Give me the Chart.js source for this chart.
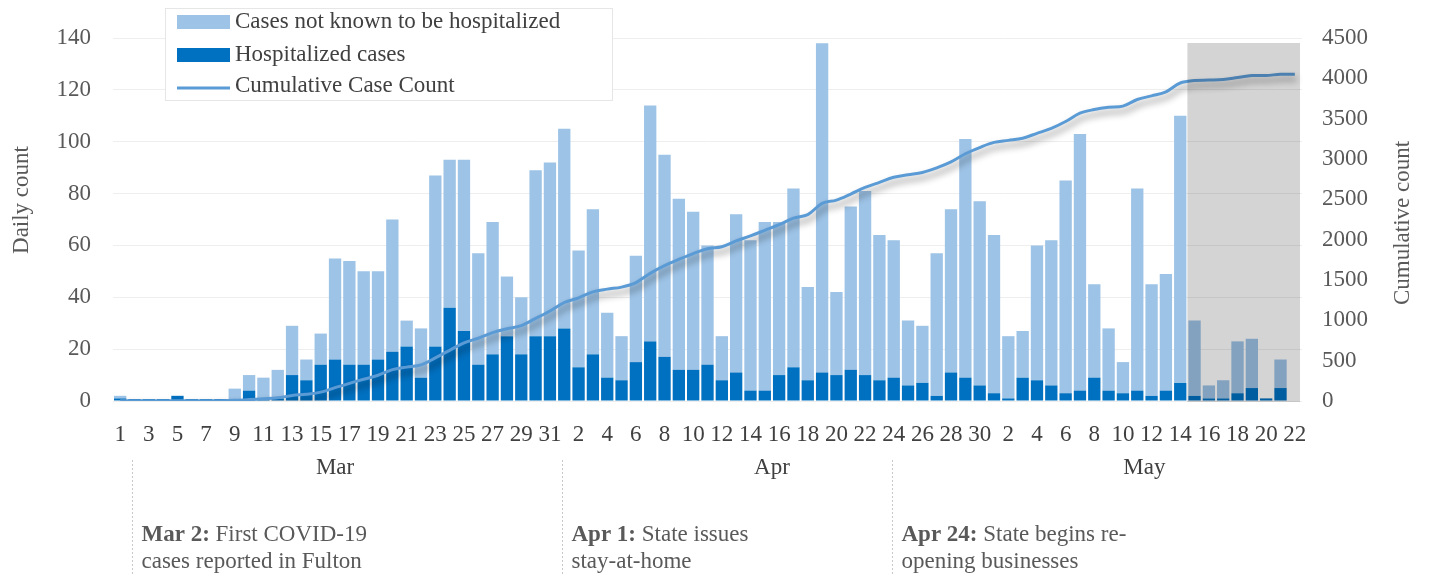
<!DOCTYPE html>
<html>
<head>
<meta charset="utf-8">
<script src="https://cdn.jsdelivr.net/npm/chart.js@4"></script>
<style>
  body { margin: 0; background: #fff; }
  canvas { display: block; }
</style>
</head>
<body>
<canvas id="casesChart" width="1430" height="576"></canvas>
<script>
// days per month shown on the axis (Mar 1 -> May 22)
const months = ["Mar", "Apr", "May"];
const monthDays = [31, 30, 22];

// daily counts (no bar yet on May 22)
const hospitalized = [
  1, 0, 0, 0, 2, 0, 0, 0, 0, 4, 1, 1, 10, 8, 14, 16, 14, 14, 16, 19, 21, 9, 21, 36, 27, 14, 18, 25, 18, 25, 25,
  28, 13, 18, 9, 8, 15, 23, 17, 12, 12, 14, 8, 11, 4, 4, 10, 13, 8, 11, 10, 12, 10, 8, 9, 6, 7, 2, 11, 9, 6,
  3, 1, 9, 8, 6, 3, 4, 9, 4, 3, 4, 2, 4, 7, 2, 1, 1, 3, 5, 1, 5, null
];
const notHospitalized = [
  1, 0, 0, 0, 0, 0, 0, 0, 4, 6, 8, 11, 19, 8, 12, 39, 40, 36, 34, 51, 10, 19, 66, 57, 66, 43, 51, 23, 22, 64, 67,
  77, 45, 56, 25, 17, 41, 91, 78, 66, 61, 46, 17, 61, 58, 65, 59, 69, 36, 127, 32, 63, 71, 56, 53, 25, 22, 55, 63, 92, 71,
  61, 24, 18, 52, 56, 82, 99, 36, 24, 12, 78, 43, 45, 103, 29, 5, 7, 20, 19, 0, 11, null
];
const cumulative = [
  2, 2, 2, 2, 4, 4, 4, 4, 8, 18, 27, 39, 68, 84, 110, 165, 219, 269, 319, 389, 420, 448, 535, 628, 721, 778, 847, 895, 935, 1024, 1116,
  1221, 1279, 1353, 1387, 1412, 1468, 1582, 1677, 1755, 1828, 1888, 1913, 1985, 2047, 2116, 2185, 2267, 2311, 2449, 2491, 2566, 2647, 2711, 2773, 2804, 2833, 2890, 2964, 3065, 3142,
  3206, 3231, 3258, 3318, 3380, 3465, 3568, 3613, 3641, 3656, 3738, 3783, 3832, 3942, 3973, 3979, 3987, 4010, 4034, 4035, 4051, 4051
];

const dailyTicks = [0, 20, 40, 60, 80, 100, 120, 140];
const cumulativeTicks = [0, 500, 1000, 1500, 2000, 2500, 3000, 3500, 4000, 4500];

// events written under the axis: [month, day, bold part, rest of line 1, line 2]
const events = [
  ["Mar", 2, "Mar 2:", " First COVID-19", "cases reported in Fulton"],
  ["Apr", 1, "Apr 1:", " State issues", "stay-at-home"],
  ["Apr", 24, "Apr 24:", " State begins re-", "opening businesses"]
];
// last week greyed out (data still coming in)
const shadeFrom = ["May", 15];

const labels = [];
monthDays.forEach(n => { for (let d = 1; d <= n; d++) labels.push(String(d)); });

const dayIndex = (m, d) => {
  let idx = 0;
  for (let i = 0; i < months.indexOf(m); i++) idx += monthDays[i];
  return idx + d - 1;
};

const FONT = '"Liberation Serif", "DejaVu Serif", serif';
const GREY_TXT = "#595959";
const DARK_TXT = "#404040";

const extras = {
  id: "extras",
  beforeDatasetDraw(chart, args) {
    if (args.meta.type === "line") {
      const c = chart.ctx;
      c.save();
      c.shadowColor = "rgba(0,0,0,0.45)";
      c.shadowBlur = 7;
      c.shadowOffsetX = 2;
      c.shadowOffsetY = 5;
    }
  },
  afterDatasetDraw(chart, args) {
    if (args.meta.type === "line") chart.ctx.restore();
  },
  afterDatasetsDraw(chart) {
    const c = chart.ctx, x = chart.scales.x, area = chart.chartArea;
    const half = (x.getPixelForValue(1) - x.getPixelForValue(0)) / 2;
    const left = x.getPixelForValue(dayIndex(...shadeFrom)) - half;
    c.save();
    c.fillStyle = "rgba(0,0,0,0.17)";
    c.fillRect(left, area.top + 5, area.right - 2 - left, area.bottom - area.top - 4);
    c.restore();
  },
  afterDraw(chart) {
    const c = chart.ctx, x = chart.scales.x;
    c.save();

    // axis titles
    c.font = "23px " + FONT;
    c.fillStyle = GREY_TXT;
    c.textAlign = "center";
    c.textBaseline = "middle";
    c.save(); c.translate(22, 200); c.rotate(-Math.PI / 2); c.fillText("Daily count", 0, 0); c.restore();
    c.save(); c.translate(1403, 223); c.rotate(-Math.PI / 2); c.fillText("Cumulative count", 0, 0); c.restore();

    // month labels
    c.fillStyle = DARK_TXT;
    let start = 0;
    months.forEach((m, i) => {
      const end = start + monthDays[i] - 1;
      const mid = (x.getPixelForValue(start) + x.getPixelForValue(end)) / 2;
      c.fillText(m, mid, 468);
      start = end + 1;
    });

    // event markers
    c.textAlign = "left";
    events.forEach(ev => {
      const px = Math.round(x.getPixelForValue(dayIndex(ev[0], ev[1]))) - 1.5;
      c.strokeStyle = "#C8C8C8";
      c.lineWidth = 1;
      c.setLineDash([2, 2]);
      c.beginPath(); c.moveTo(px, 460); c.lineTo(px, 576); c.stroke();
      c.setLineDash([]);
      const tx = px + 9;
      c.font = "bold 23px " + FONT;
      c.fillStyle = GREY_TXT;
      c.fillText(ev[2], tx, 535);
      const w = c.measureText(ev[2]).width;
      c.font = "23px " + FONT;
      c.fillText(ev[3], tx + w, 535);
      c.fillText(ev[4], tx, 562);
    });

    // legend box
    c.fillStyle = "#fff";
    c.fillRect(165, 8, 447, 92);
    c.strokeStyle = "#E6E6E6";
    c.lineWidth = 1;
    c.strokeRect(165.5, 8.5, 447, 92);
    const items = chart.data.datasets.slice().reverse();
    const rows = [22, 55, 86];
    items.forEach((ds, i) => {
      const y = rows[i];
      if (ds.type === "line") {
        c.strokeStyle = ds.borderColor;
        c.lineWidth = 3;
        c.beginPath(); c.moveTo(177, y + 2); c.lineTo(230, y + 2); c.stroke();
      } else {
        c.fillStyle = ds.backgroundColor;
        c.fillRect(177, y - 7, 53, 14);
      }
      c.fillStyle = DARK_TXT;
      c.font = "23px " + FONT;
      c.textBaseline = "middle";
      c.fillText(ds.label, 235, y);
    });
    c.restore();
  }
};

const ctx = document.getElementById("casesChart").getContext("2d");

new Chart(ctx, {
  type: "bar",
  data: {
    labels: labels,
    datasets: [
      {
        type: "line",
        label: "Cumulative Case Count",
        data: cumulative,
        yAxisID: "y1",
        borderColor: "#5B9BD5",
        borderWidth: 3,
        pointRadius: 0,
        tension: 0.35,
        order: 0
      },
      {
        label: "Hospitalized cases",
        data: hospitalized,
        yAxisID: "y",
        backgroundColor: "#0070C0",
        barPercentage: 0.86,
        categoryPercentage: 1,
        minBarLength: 2,
        order: 1
      },
      {
        label: "Cases not known to be hospitalized",
        data: notHospitalized,
        yAxisID: "y",
        backgroundColor: "#9DC3E6",
        barPercentage: 0.86,
        categoryPercentage: 1,
        order: 2
      }
    ]
  },
  options: {
    responsive: false,
    animation: false,
    layout: { padding: { top: 38, left: 0, right: 0, bottom: 0 } },
    plugins: { legend: { display: false }, tooltip: { enabled: false } },
    scales: {
      x: {
        stacked: true,
        grid: { display: false },
        border: { display: false },
        afterFit: s => { s.height = 175; },
        ticks: {
          autoSkip: false,
          maxRotation: 0,
          padding: 12,
          color: "#404040",
          font: { family: FONT, size: 23 },
          callback: (v, i) => (i % 2 === 0 ? labels[i] : "")
        }
      },
      y: {
        stacked: true,
        position: "left",
        min: dailyTicks[0],
        max: dailyTicks[dailyTicks.length - 1],
        afterFit: s => { s.width = 113; },
        afterBuildTicks: s => { s.ticks = dailyTicks.map(v => ({ value: v })); },
        grid: { color: "#EEEEEE", drawTicks: false },
        border: { display: false },
        ticks: { padding: 22, color: GREY_TXT, font: { family: FONT, size: 23 } }
      },
      y1: {
        position: "right",
        min: cumulativeTicks[0],
        max: cumulativeTicks[cumulativeTicks.length - 1],
        afterFit: s => { s.width = 128; },
        afterBuildTicks: s => { s.ticks = cumulativeTicks.map(v => ({ value: v })); },
        grid: { display: false, drawTicks: false },
        border: { display: false },
        ticks: {
          padding: 20,
          color: GREY_TXT,
          font: { family: FONT, size: 23 },
          callback: v => String(v)
        }
      }
    }
  },
  plugins: [extras]
});
</script>
</body>
</html>
